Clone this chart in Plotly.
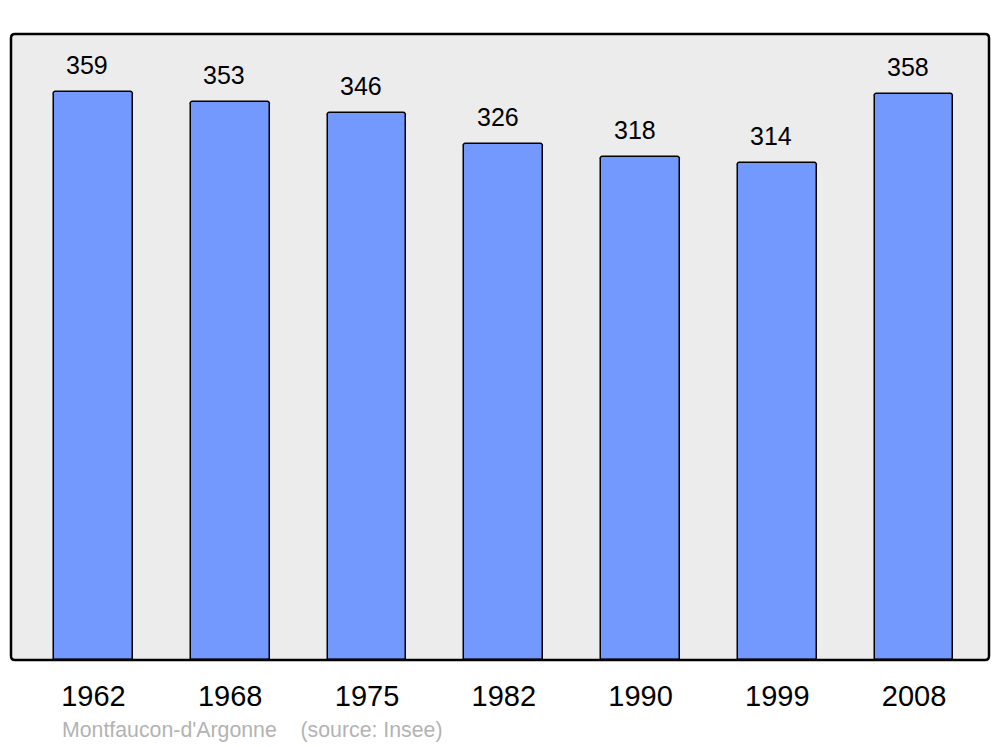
import plotly.graph_objects as go

years = ["1962", "1968", "1975", "1982", "1990", "1999", "2008"]
population = [359, 353, 346, 326, 318, 314, 358]
footer = "Montfaucon-d'Argonne    (source: Insee)"

xs = list(range(len(years)))

fig = go.Figure()
fig.add_trace(go.Bar(
    x=xs, y=population, width=0.575,
    marker=dict(color="#7399ff", line=dict(color="black", width=1.5), cornerradius=3),
    hoverinfo="skip",
))

for x, v in zip(xs, population):
    fig.add_annotation(x=x, y=v, text=str(v), showarrow=False, xanchor="center",
                       yanchor="middle", yshift=27, xshift=-6,
                       font=dict(family="Liberation Sans, Arial", size=25, color="black"))

fig.add_annotation(xref="paper", yref="paper", x=0.050, y=-0.112, xanchor="left",
                   yanchor="middle", text=footer, showarrow=False,
                   font=dict(family="Liberation Sans, Arial", size=21.3, color="#b3b3b3"))

# rounded frame
W, H = 978.0, 626.0
r = 4.0
rx, ry = r / W, r / H
path = (f"M {rx},0 L {1-rx},0 Q 1,0 1,{ry} L 1,{1-ry} Q 1,1 {1-rx},1 "
        f"L {rx},1 Q 0,1 0,{1-ry} L 0,{ry} Q 0,0 {rx},0 Z")
fig.add_shape(type="path", xref="paper", yref="paper", path=path,
              line=dict(color="black", width=2.5), layer="above")

fig.update_layout(
    width=1000, height=747,
    margin=dict(l=11, r=11, t=34, b=87),
    paper_bgcolor="white", plot_bgcolor="#ececec",
    showlegend=False, bargap=0,
    xaxis=dict(range=[-0.603, 6.548], tickvals=xs, ticktext=years, showgrid=False,
               zeroline=False, showline=False, ticks="", ticklabelstandoff=16,
               tickfont=dict(family="Liberation Sans, Arial", size=29, color="black")),
    yaxis=dict(range=[0, 395.7], showgrid=False, zeroline=False, showticklabels=False,
               showline=False, ticks=""),
)

fig.write_html("out.html", config={"displayModeBar": False},
               post_script="document.body.style.margin='0';document.body.style.overflow='hidden';")
